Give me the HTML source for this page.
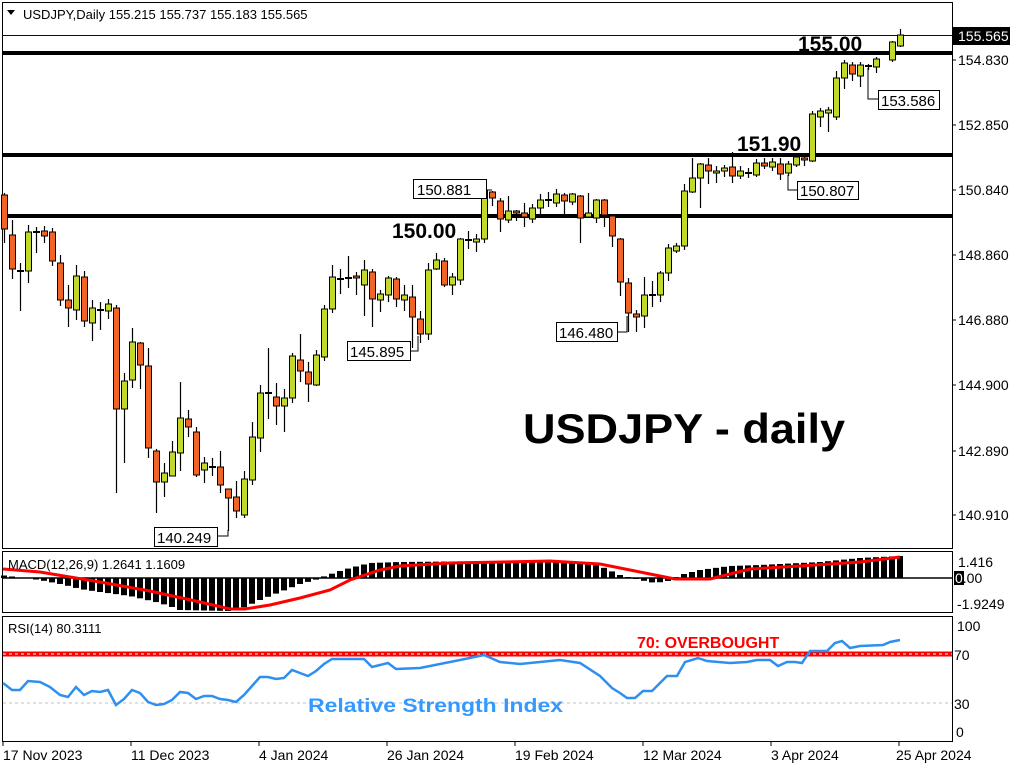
<!DOCTYPE html>
<html><head><meta charset="utf-8"><style>
html,body{margin:0;padding:0;background:#fff;width:1024px;height:768px;overflow:hidden}
svg{display:block}
text{font-family:"Liberation Sans",sans-serif}
</style></head><body>
<svg id="s" width="1024" height="768" viewBox="0 0 1024 768" xmlns="http://www.w3.org/2000/svg">
<rect x="0" y="0" width="1024" height="768" fill="#fff"/>
<rect x="2.5" y="2.5" width="950" height="546" fill="none" stroke="#000"/>
<rect x="2.5" y="551.5" width="950" height="61" fill="none" stroke="#000"/>
<rect x="2.5" y="616.5" width="950" height="125" fill="none" stroke="#000"/>
<polygon points="7,10 15,10 11,15" fill="#000"/>
<text x="23" y="19" font-size="13">USDJPY,Daily  155.215 155.737 155.183 155.565</text>
<line x1="2" y1="35.5" x2="952" y2="35.5" stroke="#000080" stroke-width="1"/>
<line x1="2" y1="53" x2="952" y2="53" stroke="#000" stroke-width="4"/>
<line x1="2" y1="155" x2="952" y2="155" stroke="#000" stroke-width="4"/>
<line x1="2" y1="216" x2="952" y2="216" stroke="#000" stroke-width="4"/>
<g id="candles"></g>
<text x="798" y="51" font-size="21" font-weight="bold">155.00</text>
<text x="737" y="151" font-size="21" font-weight="bold">151.90</text>
<text x="392" y="238" font-size="21" font-weight="bold">150.00</text>
<text x="523" y="443" font-size="42" font-weight="bold" textLength="322" lengthAdjust="spacingAndGlyphs">USDJPY - daily</text>
<g font-size="15" fill="#000">
<polyline points="486,190 492,190" stroke="#000" fill="none"/>
<rect x="413.5" y="179.5" width="73" height="19" fill="#fff" stroke="#000"/><text x="417" y="195">150.881</text>
<polyline points="410,351 418,351 418,336" stroke="#000" fill="none"/>
<rect x="347.5" y="341.5" width="63" height="19" fill="#fff" stroke="#000"/><text x="350" y="357">145.895</text>
<polyline points="617,332 627,332 627,316" stroke="#000" fill="none"/>
<rect x="556.5" y="322.5" width="61" height="19" fill="#fff" stroke="#000"/><text x="559" y="338">146.480</text>
<polyline points="217,536 228,536 228,530" stroke="#000" fill="none"/>
<rect x="154.5" y="527.5" width="63" height="19" fill="#fff" stroke="#000"/><text x="157" y="543">140.249</text>
<polyline points="788,175 788,190 797,190" stroke="#000" fill="none"/>
<rect x="797.5" y="181.5" width="61" height="18" fill="#fff" stroke="#000"/><text x="800" y="196">150.807</text>
<polyline points="868,68 868,99 879,99" stroke="#000" fill="none"/>
<rect x="878.5" y="90.5" width="61" height="19" fill="#fff" stroke="#000"/><text x="881" y="106">153.586</text>
</g>
<g font-size="14" fill="#000">
<rect x="953" y="27" width="57" height="18" fill="#000"/>
<text x="958" y="41" fill="#fff">155.565</text>
<line x1="952" y1="60" x2="956" y2="60" stroke="#000"/><text x="958" y="65">154.830</text>
<line x1="952" y1="125" x2="956" y2="125" stroke="#000"/><text x="958" y="130">152.850</text>
<line x1="952" y1="190" x2="956" y2="190" stroke="#000"/><text x="958" y="195">150.840</text>
<line x1="952" y1="255" x2="956" y2="255" stroke="#000"/><text x="958" y="260">148.860</text>
<line x1="952" y1="320" x2="956" y2="320" stroke="#000"/><text x="958" y="325">146.880</text>
<line x1="952" y1="385" x2="956" y2="385" stroke="#000"/><text x="958" y="390">144.900</text>
<line x1="952" y1="451" x2="956" y2="451" stroke="#000"/><text x="958" y="456">142.890</text>
<line x1="952" y1="515" x2="956" y2="515" stroke="#000"/><text x="958" y="520">140.910</text>
</g>
<g id="macd"></g>
<line x1="3" y1="578" x2="952" y2="578" stroke="#000" stroke-width="1.5"/>
<polyline id="sig" fill="none" stroke="#ff0000" stroke-width="3"/>
<text x="8" y="569" font-size="13">MACD(12,26,9) 1.2641 1.1609</text>
<g font-size="14">
<text x="958" y="567">1.416</text>
<rect x="954" y="571" width="10" height="14" fill="#000"/>
<text x="955" y="583"><tspan fill="#fff">0</tspan>.00</text>
<text x="957" y="609">-1.9249</text>
</g>
<line x1="3" y1="654" x2="952" y2="654" stroke="#ff0000" stroke-width="5"/>
<line x1="3" y1="654" x2="952" y2="654" stroke="#fff" stroke-width="1" stroke-dasharray="3,3"/>
<line x1="3" y1="703" x2="952" y2="703" stroke="#c0c0c0" stroke-width="1" stroke-dasharray="3,3"/>
<polyline id="rsi" fill="none" stroke="#2e8ff0" stroke-width="2.5"/>
<text x="8" y="633" font-size="13">RSI(14) 80.3111</text>
<text x="637" y="648" font-size="16" font-weight="bold" fill="#ff0000">70: OVERBOUGHT</text>
<text x="308" y="712" font-size="19" font-weight="bold" fill="#3399ff" textLength="255" lengthAdjust="spacingAndGlyphs">Relative Strength Index</text>
<g font-size="14">
<text x="957" y="631">100</text>
<text x="954" y="660">70</text>
<text x="954" y="709">30</text>
<text x="956" y="737">0</text>
</g>
<g font-size="14">
<line x1="3" y1="742" x2="3" y2="746" stroke="#000"/><text x="3" y="760">17 Nov 2023</text>
<line x1="131" y1="742" x2="131" y2="746" stroke="#000"/><text x="131" y="760">11 Dec 2023</text>
<line x1="259" y1="742" x2="259" y2="746" stroke="#000"/><text x="259" y="760">4 Jan 2024</text>
<line x1="387" y1="742" x2="387" y2="746" stroke="#000"/><text x="387" y="760">26 Jan 2024</text>
<line x1="515" y1="742" x2="515" y2="746" stroke="#000"/><text x="515" y="760">19 Feb 2024</text>
<line x1="643" y1="742" x2="643" y2="746" stroke="#000"/><text x="643" y="760">12 Mar 2024</text>
<line x1="771" y1="742" x2="771" y2="746" stroke="#000"/><text x="771" y="760">3 Apr 2024</text>
<line x1="899" y1="742" x2="899" y2="746" stroke="#000"/><text x="896" y="760">25 Apr 2024</text>
</g>
</svg>
<script>
var C=[[195,229,193,243],[235,269,220,279],[271,271,263,311],[271,232,225,283],[232,232,227,253],[231,236,226,243],[232,261,228,266],[263,300,255,306],[300,308,285,327],[310,276,265,320],[277,321,271,327],[323,308,300,341],[310,310,302,330],[311,304,299,319],[308,409,305,493],[409,381,373,463],[380,342,328,388],[343,365,342,389],[366,448,348,458],[451,482,449,513],[482,473,463,497],[476,452,441,476],[453,418,382,471],[419,427,410,437],[432,475,427,477],[470,463,457,483],[467,467,458,476],[467,485,451,493],[489,498,489,531],[497,511,481,518],[515,479,471,518],[480,437,422,485],[438,393,385,452],[393,393,348,419],[397,406,383,425],[406,398,389,432],[398,356,353,403],[360,371,334,382],[372,384,362,402],[385,355,350,386],[357,309,305,361],[309,277,265,313],[279,279,269,294],[278,278,256,288],[276,278,272,295],[285,270,260,316],[272,299,269,327],[300,294,290,312],[295,278,276,302],[279,299,277,307],[300,295,285,311],[297,317,285,348],[319,334,311,343],[334,270,263,340],[269,260,253,270],[261,285,258,287],[285,277,273,295],[280,239,238,285],[240,240,231,249],[242,239,234,252],[239,191,189,243],[192,198,191,206],[201,219,198,232],[220,211,196,223],[211,213,210,221],[213,217,203,227],[219,208,204,223],[208,200,194,215],[200,200,192,207],[203,194,189,207],[195,201,193,215],[202,194,193,205],[196,218,195,243],[217,213,193,218],[218,200,199,223],[200,215,199,227],[216,236,214,247],[239,282,238,296],[283,313,278,332],[314,317,310,332],[316,295,277,328],[295,295,281,307],[295,273,271,302],[273,248,244,281],[251,246,243,253],[246,191,184,250],[192,178,158,193],[178,164,163,208],[165,171,158,184],[173,171,166,183],[171,168,165,177],[167,176,152,183],[176,171,166,179],[173,173,168,178],[175,163,159,177],[163,166,158,169],[167,162,158,171],[164,174,158,180],[173,164,161,176],[165,157,155,167],[158,160,157,166],[161,114,111,162],[117,111,108,127],[113,110,107,132],[117,78,71,120],[78,63,60,89],[65,74,62,81],[76,65,62,87],[66,66,64,70],[67,59,57,73],null,[60,42,41,62],[46,35,29,47]];
var g=document.getElementById('candles'),h='';
C.forEach(function(c,i){if(!c)return;var x=4+8*i;var o=c[0],cl=c[1];
h+='<line x1="'+(x+.5)+'" y1="'+c[2]+'" x2="'+(x+.5)+'" y2="'+c[3]+'" stroke="#000" stroke-width="1.2"/>';
if(Math.abs(o-cl)<1){h+='<line x1="'+(x-3)+'" y1="'+o+'" x2="'+(x+4)+'" y2="'+o+'" stroke="#000" stroke-width="2"/>';}
else{var t=Math.min(o,cl),b=Math.max(o,cl),col=cl<o?'#c2d92c':'#f26426';
h+='<rect x="'+(x-2.5)+'" y="'+t+'" width="6" height="'+(b-t)+'" fill="'+col+'" stroke="#000" stroke-width="1"/>';}
});
g.innerHTML=h;
function interp(P,x){for(var k=0;k<P.length-1;k++){if(x<=P[k+1][0]){var a=P[k],b=P[k+1];return a[1]+(b[1]-a[1])*(x-a[0])/(b[0]-a[0]);}}return P[P.length-1][1];}
var H=[[0,575],[40,580],[65,585],[80,589],[100,592],[130,596],[160,603],[175,608],[180,610],[230,611],[245,607],[260,600],[280,592],[300,584],[315,580],[325,576],[340,571],[350,568],[370,563],[400,562],[500,561],[580,562],[600,566],[620,575],[640,580],[655,583],[668,581],[680,575],[700,570],[730,566],[760,565],[820,562],[860,558],[900,556]];
var m='';for(var i=0;i<113;i++){var x=4+8*i;var y=interp(H,x);var t=Math.min(y,578),b=Math.max(y,578);m+='<rect x="'+(x-3)+'" y="'+t+'" width="6" height="'+(b-t)+'" fill="#000"/>';}
document.getElementById('macd').innerHTML=m;
var S=[[3,569],[40,572],[100,582],[150,591],[200,602],[230,609],[245,609],[270,605],[300,598],[330,590],[350,580],[380,570],[400,566],[450,563],[550,561],[600,564],[650,574],[675,579],[710,579],[730,574],[750,569],[800,566],[860,562],[900,557]];
document.getElementById('sig').setAttribute('points',S.map(function(p){return p.join(',')}).join(' '));
var R=[[3,683],[12,690],[20,690],[28,681],[40,682],[50,687],[60,695],[68,697],[76,687],[84,695],[92,691],[100,692],[108,690],[116,705],[124,699],[132,690],[140,693],[148,702],[156,705],[164,704],[172,700],[180,692],[188,693],[196,699],[204,696],[212,696],[220,699],[228,700],[236,702],[244,695],[252,686],[260,677],[268,677],[276,679],[284,678],[292,670],[300,673],[308,676],[316,671],[324,664],[332,659],[364,659],[372,667],[380,665],[388,663],[396,669],[420,668],[440,664],[460,660],[484,655],[500,662],[520,664],[540,662],[560,660],[580,663],[600,676],[612,688],[620,693],[627,698],[635,698],[643,691],[652,691],[667,676],[677,676],[685,662],[698,658],[707,661],[730,663],[747,662],[757,660],[770,660],[778,666],[787,662],[795,662],[802,663],[810,651],[827,651],[835,643],[842,641],[850,648],[860,646],[883,645],[890,642],[900,640]];
document.getElementById('rsi').setAttribute('points',R.map(function(p){return p.join(',')}).join(' '));
</script>
</body></html>
